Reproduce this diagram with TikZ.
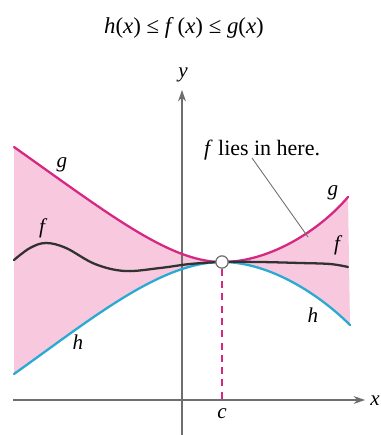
\documentclass[tikz,border=0pt]{standalone}
\usepackage{fontspec}
\setmainfont{Liberation Serif}
\usepackage{xcolor}
\usepackage{tikz}
\usetikzlibrary{arrows.meta,positioning}

\definecolor{gcurve}{RGB}{214,40,130}
\definecolor{hcurve}{RGB}{40,170,210}
\definecolor{fcurve}{RGB}{50,50,50}
\definecolor{bandfill}{RGB}{247,200,222}
\definecolor{axisgray}{RGB}{110,110,110}

\begin{document}
\begin{tikzpicture}[
        x=0.02cm, y=-0.02cm,
        lbl/.style={font=\fontsize{12}{14}\selectfont\itshape, inner sep=0pt},
        curve/.style={line width=1.3pt, line cap=round},
        axis/.style={draw=axisgray, line width=0.6pt, -{Stealth[length=6.5pt,width=4.5pt]}}
    ]
                \useasboundingbox (0,0) rectangle (380,435);

                % shaded band between h and g
                \fill[bandfill]
                    (14,147) .. controls (110,215) and (170,262) .. (222,262)
                    .. controls (270,262) and (320,230) .. (348,197)
                    -- (350,325)
                    .. controls (320,295) and (270,262) .. (222,262)
                    .. controls (160,262) and (90,320) .. (14,374)
                    -- cycle;

                % axes
                \coordinate (xstart) at (13,400);
                \coordinate (xend) at (365,400);
                \coordinate (ystart) at (182,435);
                \coordinate (yend) at (182,90);
                \draw[axis] (xstart) -- (xend);
                \draw[axis] (ystart) -- (yend);
                \node[lbl] (xlabel) at (375,401) {x};
                \node[lbl] (ylabel) at (183,75) {y};

                % curves
                \draw[
                    curve,
                    draw=gcurve
                    ] (14,147) .. controls (110,215) and (170,262) .. (222,262)
                      .. controls (270,262) and (320,230) .. (348,197);

                \draw[
                    curve,
                    draw=hcurve
                    ] (14,374) .. controls (90,320) and (160,262) .. (222,262)
                      .. controls (270,262) and (320,295) .. (350,325);

                \draw[
                    curve,
                    draw=fcurve
                    ] plot[smooth, tension=0.6] coordinates {
                        (14,260) (30,248) (46,243) (66,248) (95,264) (125,271)
                        (160,268) (190,264) (222,262) (260,262) (300,263)
                        (330,264) (348,267)};

                % the point c
                \node[
                    circle,
                    draw=axisgray,
                    fill=white,
                    line width=0.7pt,
                    inner sep=0pt,
                    minimum size=7pt
                    ] (cpt) at (222,262) {};
                \coordinate (cfoot) at (222,400);
                \draw[
                    draw=gcurve,
                    line width=1.2pt,
                    dash pattern=on 4pt off 3pt
                    ] (cpt) -- (cfoot);
                \node[lbl] (clabel) at (222,414) {c};

                % curve labels
                \node[lbl] (gleft) at (62,165) {g};
                \node[lbl] (gright) at (333,193) {g};
                \node[lbl] (fleft) at (42,228) {f};
                \node[lbl] (fright) at (337,245) {f};
                \node[lbl] (hleft) at (78,342) {h};
                \node[lbl] (hright) at (313,315) {h};

                % title and note
                \node[inner sep=0pt, font=\fontsize{13}{15}\selectfont] (title) at (184,28)
                    {\textit{h}(\textit{x}) ≤ \textit{f}\,(\textit{x}) ≤ \textit{g}(\textit{x})};
                \node[inner sep=1pt, font=\fontsize{12.5}{14}\selectfont] (note) at (262,150)
                    {\textit{f} lies in here.};
                \coordinate (notefoot) at (252,158);
                \coordinate (notetip) at (308,237);
                \draw[axisgray, line width=0.5pt] (notefoot) -- (notetip);

            \end{tikzpicture}
\end{document}
